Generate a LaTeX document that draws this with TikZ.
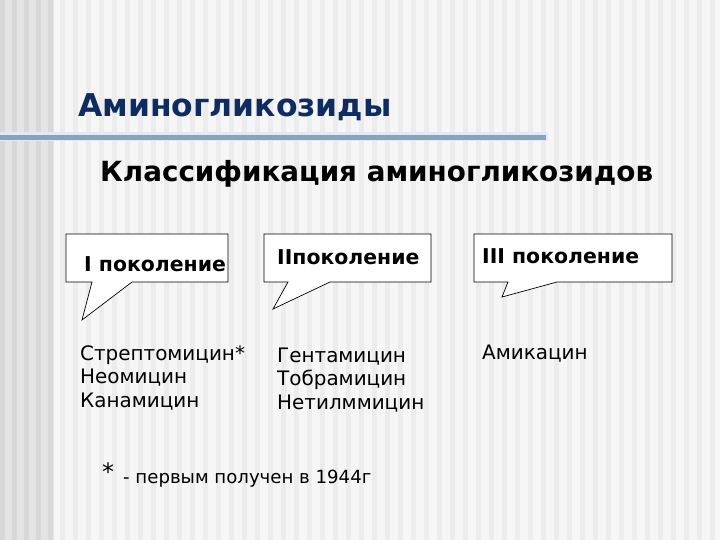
\documentclass[tikz,border=0pt]{standalone}
\usepackage{fontspec}
\setmainfont{DejaVu Sans}
\definecolor{bgA}{RGB}{246,246,246}
\definecolor{bgB}{RGB}{236,236,236}
\definecolor{bandA}{RGB}{228,228,228}
\definecolor{bandB}{RGB}{216,216,216}
\definecolor{titleblue}{RGB}{14,44,98}
\definecolor{rulecol}{RGB}{140,162,186}
\definecolor{rulelight}{RGB}{222,234,248}
\tikzset{
  titletext/.style={anchor=base west, inner sep=0pt, text=titleblue, font=\fontsize{31.5}{36}\selectfont\bfseries},
  subtext/.style={anchor=base west, inner sep=0pt, text=black, font=\fontsize{27.9}{32}\selectfont\bfseries},
  genlabel/.style={anchor=base west, inner sep=0pt, text=black, font=\fontsize{20.5}{24}\selectfont\bfseries},
  listtext/.style={anchor=base west, inner sep=0pt, text=black, align=left, font=\fontsize{20}{23.5}\selectfont},
  notetext/.style={anchor=base west, inner sep=0pt, text=black, font=\fontsize{18.2}{21}\selectfont},
  bubble/.style={draw=black, fill=white, line width=0.7pt, line join=miter},
}
\begin{document}
\begin{tikzpicture}[x=1bp,y=-1bp]
\useasboundingbox (0,0) rectangle (720,540);
% background
\fill[bgA] (0,0) rectangle (720,540);
\foreach \i in {0,...,51} {
  \fill[bgB] ({60+13*\i},0) rectangle ({65+13*\i},540);
}
\fill[bandA] (0,0) rectangle (54,540);
\foreach \i in {0,...,4} {
  \fill[bandB] ({12*\i},0) rectangle ({12*\i+5},540);
}
% rule under title
\fill[rulelight] (0,132) rectangle (548,141);
\fill[rulecol] (0,135.5) rectangle (546,140);
% titles
\node[titletext] (title) at (78,117) {Аминогликозиды};
\node[subtext] (subtitle) at (100,182) {Классификация аминогликозидов};
% callouts
\draw[bubble] (66,234) -- (228,234) -- (228,282) -- (132,282) -- (82,320) -- (92,282) -- (66,282) -- cycle;
\draw[bubble] (264,234) -- (431,234) -- (431,282) -- (330,282) -- (273,309) -- (288,282) -- (264,282) -- cycle;
\draw[bubble] (474,234) -- (672,234) -- (672,282) -- (557,282) -- (502,297) -- (508,282) -- (474,282) -- cycle;
\node[genlabel] (gen1) at (84,272) {I поколение};
\node[genlabel] (gen2) at (277,265) {IIпоколение};
\node[genlabel] (gen3) at (482,264) {III поколение};
% lists (anchored at the baseline of the last line)
\node[listtext] (list1) at (80,407) {Стрептомицин*\\Неомицин\\Канамицин};
\node[listtext] (list2) at (277,409) {Гентамицин\\Тобрамицин\\Нетилммицин};
\node[listtext] (list3) at (482,359) {Амикацин};
% footnote
\node[anchor=base west, inner sep=0pt, font=\fontsize{24}{26}\selectfont] (star) at (102,480) {*};
\node[notetext] (note) at (123,483) {- первым получен в 1944г};
\end{tikzpicture}
\end{document}
